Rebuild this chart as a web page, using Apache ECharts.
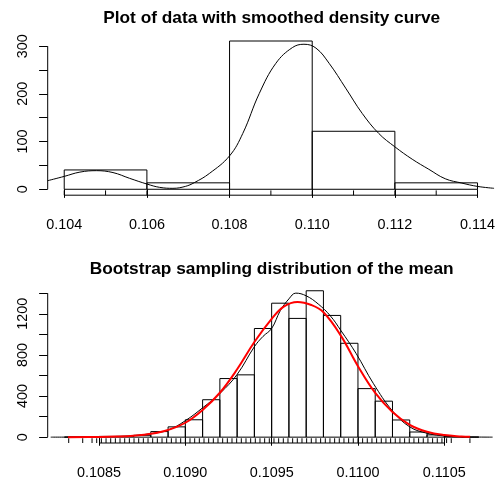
<!DOCTYPE html>
<html><head><meta charset="utf-8">
<script src="https://cdn.jsdelivr.net/npm/echarts@6/dist/echarts.min.js"></script>
<style>html,body{margin:0;padding:0;background:#fff}#c{width:498px;height:480px}</style>
</head><body><div id="c"></div>
<script>
// ---------- data: top panel ----------
const topTitle = 'Plot of data with smoothed density curve';
const topBinStart = [0.104, 0.106, 0.108, 0.110, 0.112];
const topBinEnd   = [0.106, 0.108, 0.110, 0.112, 0.114];
const topDensity  = [40.5, 13.5, 310.8, 121.6, 13.5];
const topRug = [0.104, 0.105, 0.106, 0.108, 0.109, 0.110, 0.111, 0.112, 0.113];
const topCurveX = [0.1036, 0.1040, 0.10438, 0.10478, 0.10518, 0.10558, 0.10600, 0.10631, 0.10663, 0.10693, 0.10715, 0.10751, 0.10800, 0.10832, 0.10872, 0.10912, 0.10952, 0.10980, 0.11009, 0.11041, 0.11081, 0.11121, 0.11161, 0.11200, 0.11242, 0.11282, 0.11322, 0.11362, 0.11400, 0.11440];
const topCurveY = [18, 27, 36, 39, 35, 23, 11, 4, 2, 6, 14, 33, 70, 117, 201, 264, 297, 304, 296, 264, 212, 159, 117, 89, 63, 42, 22, 13, 6, 2];
const topXTicks = [0.104, 0.106, 0.108, 0.110, 0.112, 0.114];
const topYTicks = [0, 50, 100, 150, 200, 250, 300];
const topYLabels = [0, 100, 200, 300];

// ---------- data: bottom panel ----------
const botTitle = 'Bootstrap sampling distribution of the mean';
const botBinStart = [0.1083, 0.1084, 0.1085, 0.1086, 0.1087, 0.1088, 0.1089, 0.1090, 0.1091, 0.1092, 0.1093, 0.1094, 0.1095, 0.1096, 0.1097, 0.1098, 0.1099, 0.1100, 0.1101, 0.1102, 0.1103, 0.1104, 0.1105, 0.1106];
const botBinEnd   = [0.1084, 0.1085, 0.1086, 0.1087, 0.1088, 0.1089, 0.1090, 0.1091, 0.1092, 0.1093, 0.1094, 0.1095, 0.1096, 0.1097, 0.1098, 0.1099, 0.1100, 0.1101, 0.1102, 0.1103, 0.1104, 0.1105, 0.1106, 0.1107];
const botDensity  = [1, 3, 7, 8, 18, 54, 100, 169, 364, 570, 606, 1057, 1303, 1155, 1424, 1184, 913, 472, 350, 167, 50, 22, 5, 1];
// distinct bootstrap means, as totals of the 37 observations in units of 0.001
const bootRugTotals = [4008, 4011, 4013, 4014, 4015, 4016, 4017, 4018, 4019, 4020, 4021, 4022, 4023, 4024, 4025, 4026, 4027, 4028, 4029, 4030, 4031, 4032, 4033, 4034, 4035, 4036, 4037, 4038, 4039, 4040, 4041, 4042, 4043, 4044, 4045, 4046, 4047, 4048, 4049, 4050, 4051, 4052, 4053, 4054, 4055, 4056, 4057, 4058, 4059, 4060, 4061, 4062, 4063, 4064, 4065, 4066, 4067, 4068, 4069, 4070, 4071, 4072, 4073, 4074, 4075, 4076, 4077, 4078, 4079, 4080, 4081, 4082, 4083, 4084, 4085, 4086, 4087, 4088, 4089, 4090, 4094];
const kdeX = [0.10822, 0.10840, 0.10860, 0.10870, 0.10880, 0.10890, 0.10900, 0.10910, 0.10920, 0.10930, 0.10940, 0.10945, 0.10950, 0.10955, 0.10960, 0.10964, 0.10970, 0.10977, 0.10984, 0.10990, 0.10999, 0.11009, 0.11020, 0.11030, 0.11040, 0.11051, 0.11060, 0.11078];
const kdeY = [0, 1, 6, 14, 34, 68, 160, 285, 425, 610, 880, 980, 1057, 1230, 1345, 1401, 1375, 1295, 1180, 1040, 812, 520, 255, 100, 38, 10, 3, 0];
const normX = [0.10832, 0.10850, 0.10860, 0.10870, 0.10880, 0.10890, 0.10900, 0.10910, 0.10920, 0.10930, 0.10940, 0.10950, 0.10957, 0.10965, 0.10973, 0.10980, 0.10990, 0.11000, 0.11010, 0.11020, 0.11030, 0.11040, 0.11050, 0.11060, 0.11065];
const normY = [0, 2, 6, 14, 32, 70, 140, 265, 432, 660, 925, 1150, 1270, 1315, 1285, 1215, 990, 690, 430, 245, 120, 52, 20, 7, 4];
const botXTicks = [0.1085, 0.1090, 0.1095, 0.1100, 0.1105];
const botYTicks = [0, 200, 400, 600, 800, 1000, 1200, 1400];
const botYLabels = [0, 400, 800, 1200];

// ---------- axis ranges (R usr extents) ----------
const T = {xmin: 0.1036, xmax: 0.1144, ymin: -12.43, ymax: 323.2};
const B = {xmin: 0.1082026, xmax: 0.1107974, ymin: -57, ymax: 1483};

const FONT = '"Liberation Sans", Arial, Helvetica, sans-serif';
const chart = echarts.init(document.getElementById('c'), null, {renderer: 'canvas'});

function histSeries(idx, s, e, d) {
  return {
    type: 'custom', xAxisIndex: idx, yAxisIndex: idx, silent: true, clip: false,
    data: s.map((v, i) => [v, e[i], d[i]]),
    encode: {x: [0, 1], y: 2},
    renderItem: (p, api) => {
      const a = api.coord([api.value(0), 0]);
      const b = api.coord([api.value(1), api.value(2)]);
      return {type: 'rect', shape: {x: a[0], y: b[1], width: b[0] - a[0], height: a[1] - b[1]},
        style: {fill: 'none', stroke: '#000', lineWidth: 1}};
    }
  };
}
function rugSeries(idx, vals, R) {
  return {
    type: 'custom', xAxisIndex: idx, yAxisIndex: idx, silent: true, clip: false,
    data: vals.map(v => [v, R.ymin]),
    encode: {x: 0, y: 1},
    renderItem: (p, api) => {
      const a = api.coord([api.value(0), R.ymin]);
      const b = api.coord([api.value(0), R.ymin + 0.03 * (R.ymax - R.ymin)]);
      return {type: 'line', shape: {x1: a[0], y1: a[1], x2: b[0], y2: b[1]}, style: {stroke: '#000', lineWidth: 1}};
    }
  };
}
function axisLinesSeries(idx, R, xTicks, yTicks) {
  return {
    type: 'custom', xAxisIndex: idx, yAxisIndex: idx, silent: true, clip: false,
    data: [[R.xmin, R.ymin]],
    encode: {x: 0, y: 1},
    renderItem: (p, api) => {
      const y0 = api.coord([R.xmin, yTicks[0]]), y1 = api.coord([R.xmin, yTicks[yTicks.length - 1]]);
      const x0 = api.coord([xTicks[0], R.ymin]), x1 = api.coord([xTicks[xTicks.length - 1], R.ymin]);
      return {type: 'group', children: [
        {type: 'line', shape: {x1: y0[0], y1: y0[1], x2: y1[0], y2: y1[1]}, style: {stroke: '#000', lineWidth: 1}},
        {type: 'line', shape: {x1: x0[0], y1: x0[1], x2: x1[0], y2: x1[1]}, style: {stroke: '#000', lineWidth: 1}}
      ]};
    }
  };
}
function lineSeries(idx, xs, ys, color, w) {
  return {type: 'line', xAxisIndex: idx, yAxisIndex: idx, data: xs.map((v, i) => [v, ys[i]]),
    showSymbol: false, symbol: 'none', smooth: 0.4, silent: true,
    lineStyle: {color: color, width: w}};
}
function xAxisCfg(idx, R, ticks, dec) {
  return {type: 'value', gridIndex: idx, min: R.xmin, max: R.xmax,
    axisLine: {show: false}, splitLine: {show: false},
    axisTick: {show: true, inside: false, length: 8.6, customValues: ticks, lineStyle: {color: '#000', width: 1}},
    axisLabel: {show: true, customValues: ticks, margin: 23, color: '#000', fontSize: 14.4, fontFamily: FONT,
      formatter: v => Number(v).toFixed(dec)}};
}
function yAxisCfg(idx, R, ticks, labels) {
  return {type: 'value', gridIndex: idx, min: R.ymin, max: R.ymax,
    axisLine: {show: false}, splitLine: {show: false},
    axisTick: {show: true, inside: false, length: 8.6, customValues: ticks, lineStyle: {color: '#000', width: 1}},
    axisLabel: {show: true, customValues: labels, rotate: 90, margin: 18, color: '#000', fontSize: 14.4, fontFamily: FONT,
      formatter: v => String(Math.round(v))}};
}

chart.setOption({
  animation: false,
  backgroundColor: '#fff',
  grid: [
    {left: 47.7, top: 35.1, width: 447.9, height: 160.1},
    {left: 47.7, top: 284.7, width: 447.9, height: 161.3}
  ],
  xAxis: [xAxisCfg(0, T, topXTicks, 3), xAxisCfg(1, B, botXTicks, 4)],
  yAxis: [yAxisCfg(0, T, topYTicks, topYLabels), yAxisCfg(1, B, botYTicks, botYLabels)],
  graphic: [
    {type: 'text', x: 271.7, y: 18, style: {text: topTitle, font: 'bold 17.3px ' + FONT, fill: '#000', align: 'center', verticalAlign: 'middle'}},
    {type: 'text', x: 271.7, y: 269, style: {text: botTitle, font: 'bold 17.3px ' + FONT, fill: '#000', align: 'center', verticalAlign: 'middle'}}
  ],
  series: [
    axisLinesSeries(0, T, topXTicks, topYTicks),
    histSeries(0, topBinStart, topBinEnd, topDensity),
    lineSeries(0, topCurveX, topCurveY, '#000', 1),
    rugSeries(0, topRug, T),
    axisLinesSeries(1, B, botXTicks, botYTicks),
    histSeries(1, botBinStart, botBinEnd, botDensity),
    lineSeries(1, kdeX, kdeY, '#000', 1),
    lineSeries(1, normX, normY, '#ff0000', 2),
    rugSeries(1, bootRugTotals.map(t => t / 37000), B)
  ]
});
</script></body></html>
